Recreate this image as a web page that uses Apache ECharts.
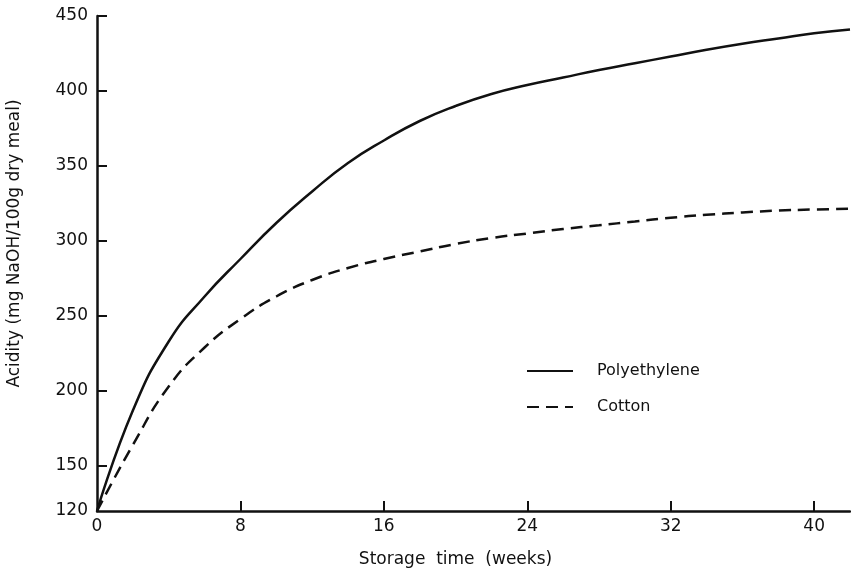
<!DOCTYPE html>
<html>
<head>
<meta charset="utf-8">
<title>Acidity during storage</title>
<script src="https://cdn.jsdelivr.net/npm/echarts@6/dist/echarts.min.js"></script>
<style>
  html, body { margin: 0; padding: 0; background: #fff; }
  #chart { width: 851px; height: 570px; }
</style>
</head>
<body>
<div id="chart"></div>
<script>
// Storage time in weeks
const weeks = [0, 2, 4, 6, 8, 10, 12, 14, 16, 18, 20, 22, 24, 26, 28, 30, 32, 34, 36, 38, 40, 42];
// Acidity (mg NaOH / 100 g dry meal) by packaging
const polyethylene = [120, 187, 233, 263, 288, 312, 333, 352, 367, 380, 390, 398, 404, 409, 414, 418.5, 423, 427.5, 431.5, 435, 438.5, 441];
const cotton = [120, 164, 203, 229, 248, 263, 274, 282, 288, 293, 298, 302, 305, 308, 310.5, 313, 315.5, 317.5, 319, 320.3, 321, 321.5];

// Axis tick positions and labels
const xTickLabels = [0, 8, 16, 24, 32, 40];
const xTickMarks = [8, 16, 24, 32, 40];
const yTickLabels = [120, 150, 200, 250, 300, 350, 400, 450];
const yTickMarks = [150, 200, 250, 300, 350, 400, 450];

const pairs = (xs, ys) => xs.map((x, i) => [x, ys[i]]);

const font = '"DejaVu Sans", "Liberation Sans", sans-serif';
const ink = '#111';

const chart = echarts.init(document.getElementById('chart'), null, { renderer: 'canvas' });

chart.setOption({
  backgroundColor: '#fff',
  animation: false,
  grid: { left: 97, top: 16, width: 753, bottom: 59, containLabel: false, outerBoundsMode: 'none' },
  legend: {
    orient: 'vertical',
    left: 521,
    top: 358,
    itemWidth: 46,
    itemHeight: 14,
    itemGap: 20,
    itemStyle: { opacity: 0 },
    textStyle: { fontFamily: font, fontSize: 16, color: ink, padding: [0, 0, 0, 19] },
    data: ['Polyethylene', 'Cotton']
  },
  xAxis: {
    type: 'value',
    min: 0,
    max: 42,
    name: 'Storage  time  (weeks)',
    nameLocation: 'middle',
    nameGap: 40,
    nameTextStyle: { fontFamily: font, fontSize: 17, color: ink, padding: [0, 36, 0, 0] },
    axisLine: { show: true, onZero: false, lineStyle: { color: ink, width: 2.5 } },
    axisTick: { show: true, inside: true, length: 10, customValues: xTickMarks, lineStyle: { color: ink, width: 2 } },
    axisLabel: { customValues: xTickLabels, margin: 7, fontFamily: font, fontSize: 17, color: ink },
    splitLine: { show: false }
  },
  yAxis: {
    type: 'value',
    min: 120,
    max: 450,
    name: 'Acidity (mg NaOH/100g dry meal)',
    nameLocation: 'middle',
    nameGap: 74,
    nameRotate: 90,
    nameTextStyle: { fontFamily: font, fontSize: 17, color: ink, padding: [0, 0, 0, 40] },
    axisLine: { show: true, onZero: false, lineStyle: { color: ink, width: 2.5 } },
    axisTick: { show: true, inside: true, length: 10, customValues: yTickMarks, lineStyle: { color: ink, width: 2 } },
    axisLabel: { customValues: yTickLabels, margin: 9, fontFamily: font, fontSize: 17, color: ink },
    splitLine: { show: false }
  },
  series: [
    {
      name: 'Polyethylene',
      type: 'line',
      data: pairs(weeks, polyethylene),
      smooth: 0.5,
      showSymbol: false,
      symbol: 'none',
      lineStyle: { color: ink, width: 2.5, type: 'solid' },
      itemStyle: { color: ink }
    },
    {
      name: 'Cotton',
      type: 'line',
      data: pairs(weeks, cotton),
      smooth: 0.5,
      showSymbol: false,
      symbol: 'none',
      lineStyle: { color: ink, width: 2.5, type: [12, 7] },
      itemStyle: { color: ink }
    }
  ]
});
</script>
</body>
</html>
